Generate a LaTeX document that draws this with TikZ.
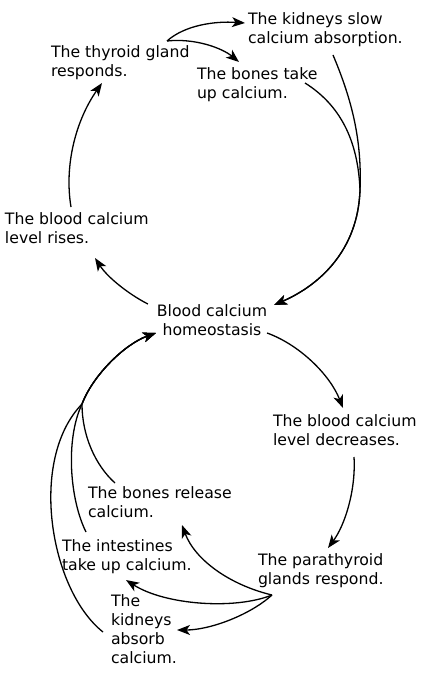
\documentclass[tikz,border=0pt]{standalone}
\usepackage{fontspec}
\setmainfont{DejaVu Sans}
\usetikzlibrary{arrows.meta}
\begin{document}
\begin{tikzpicture}[x=1pt,y=-1pt,
  lbl/.style={inner sep=0pt,outer sep=0pt,align=left,anchor=north west,
    font=\fontsize{15.7pt}{19pt}\selectfont},
  arr/.style={line width=1.3pt,-{Stealth[length=13pt,width=10pt,inset=3.5pt]}},
  ln/.style={line width=1.3pt}]
\useasboundingbox (0,0) rectangle (427,676);
% nodes
\node[lbl] (kid) at (248,13) {The kidneys slow\\calcium absorption.};
\node[lbl] (thy) at (51,46) {The thyroid gland\\responds.};
\node[lbl] (bon) at (197,68) {The bones take\\up calcium.};
\node[lbl] (ris) at (5,213) {The blood calcium\\level rises.};
\node[lbl,align=center,anchor=north] (hom) at (212,305) {Blood calcium\\homeostasis};
\node[lbl] (dec) at (273,415) {The blood calcium\\level decreases.};
\node[lbl] (par) at (258,554) {The parathyroid\\glands respond.};
\node[lbl] (rel) at (88,487) {The bones release\\calcium.};
\node[lbl] (int) at (62,540) {The intestines\\take up calcium.};
\node[lbl] (kab) at (111,595) {The\\kidneys\\absorb\\calcium.};
% thyroid branches
\draw[arr] ([shift={(116,-5)}]thy.north west) .. controls (185,25) and (215,21) .. ([shift={(-3,10)}]kid.north west);
\draw[arr] ([shift={(116,-5)}]thy.north west) .. controls (195,38) and (222,48) .. ([shift={(42,-6)}]bon.north west);
% into homeostasis from top right
\draw[arr] ([shift={(85,42)}]kid.north west) .. controls (352,100) and (362,140) .. (360,190)
  .. controls (358,250) and (320,285) .. ([shift={(7,0)}]hom.north east);
\draw[arr] ([shift={(108,15)}]bon.north west) .. controls (340,105) and (358,140) .. (360,190)
  .. controls (358,250) and (320,285) .. ([shift={(7,0)}]hom.north east);
% left upper cycle
\draw[arr] ([shift={(-9,-1)}]hom.north west) .. controls (130,295) and (108,278) .. ([shift={(90,45)}]ris.north west);
\draw[arr] ([shift={(66,-6)}]ris.north west) .. controls (64,165) and (76,120) .. ([shift={(51,37)}]thy.north west);
% right lower
\draw[arr] ([shift={(0,28)}]hom.north east) .. controls (300,345) and (330,375) .. ([shift={(70,-7)}]dec.north west);
\draw[arr] ([shift={(81,42)}]dec.north west) .. controls (356,490) and (345,525) .. ([shift={(70,-6)}]par.north west);
% parathyroid branches
\draw[arr] ([shift={(14,41)}]par.north west) .. controls (230,585) and (195,560) .. ([shift={(94,38)}]rel.north west);
\draw[arr] ([shift={(14,41)}]par.north west) .. controls (235,610) and (165,605) .. ([shift={(64,40)}]int.north west);
\draw[arr] ([shift={(14,41)}]par.north west) .. controls (250,615) and (210,630) .. ([shift={(66,35)}]kab.north west);
% back to homeostasis
\draw[arr] ([shift={(27,-4)}]rel.north west) .. controls (95,465) and (82,435) .. (82,404)
  .. controls (93,375) and (125,344) .. ([shift={(-1,28)}]hom.north west);
\draw[arr] ([shift={(24,-8)}]int.north west) .. controls (70,500) and (65,440) .. (82,404)
  .. controls (93,375) and (125,344) .. ([shift={(-1,28)}]hom.north west);
\draw[arr] ([shift={(-8,37)}]kab.north west) .. controls (50,590) and (28,460) .. (82,404)
  .. controls (93,375) and (125,344) .. ([shift={(-1,28)}]hom.north west);
\end{tikzpicture}
\end{document}
